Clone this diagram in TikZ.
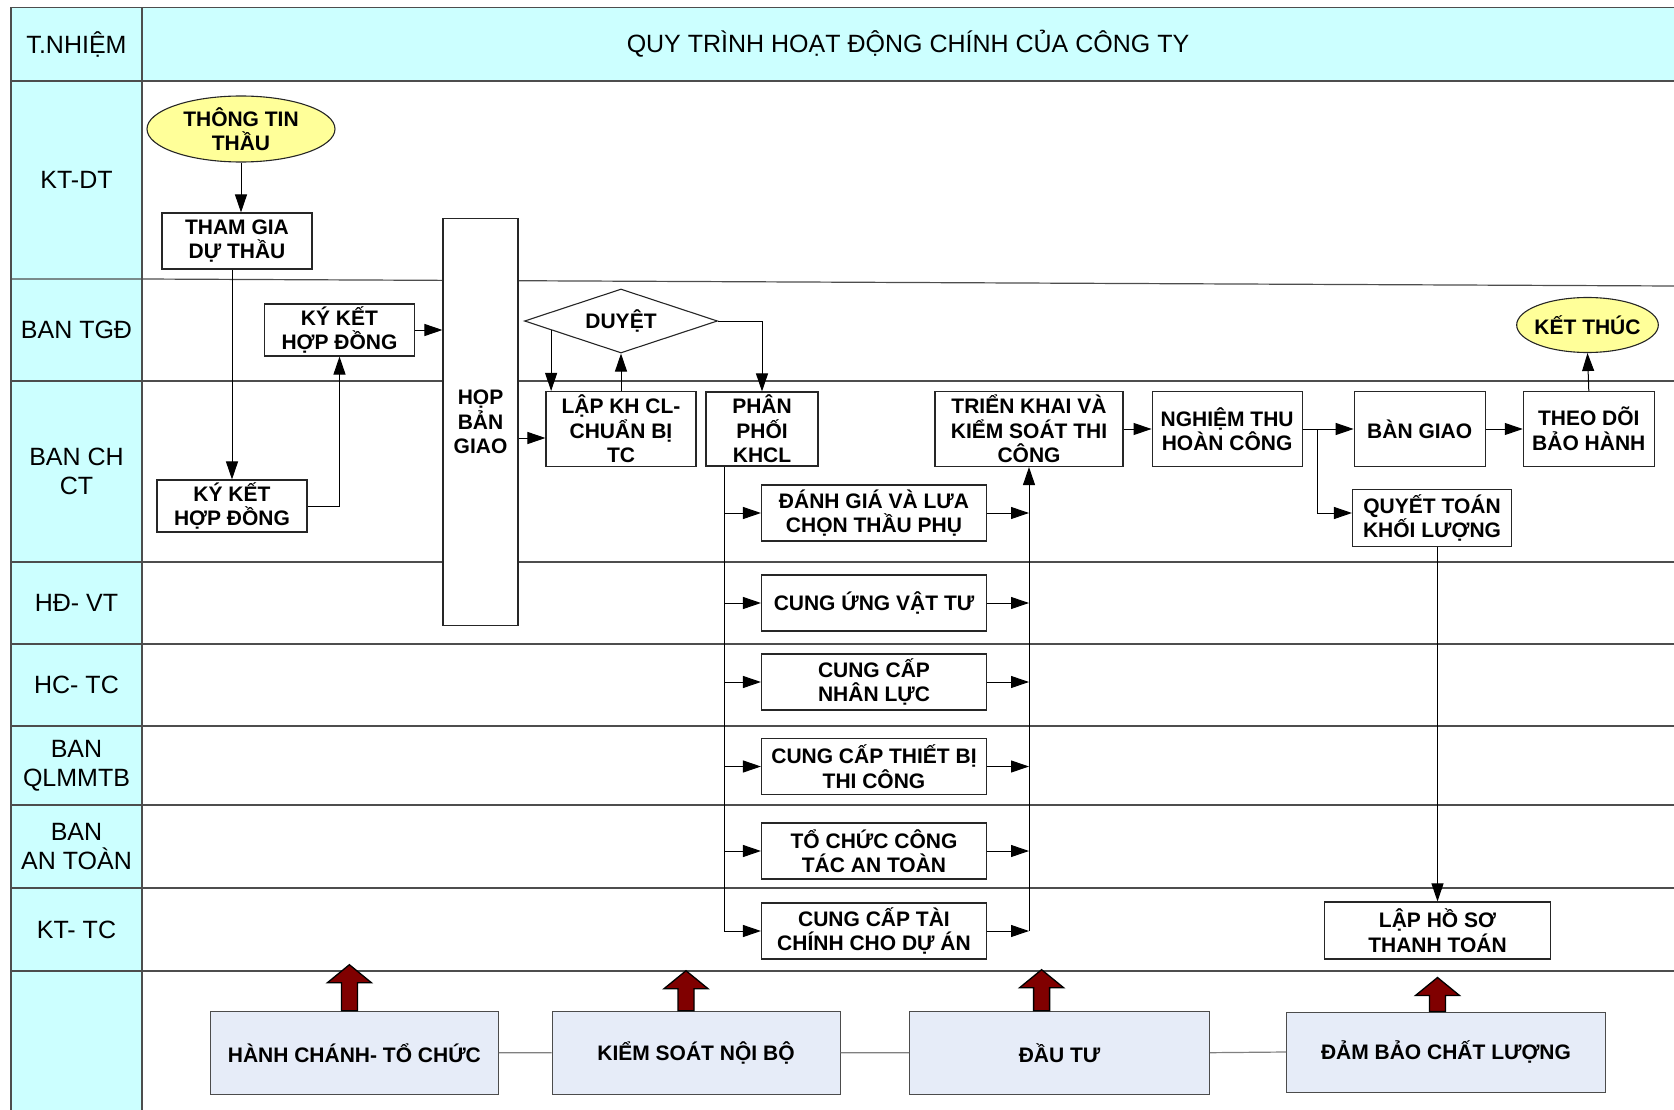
\documentclass[tikz,border=0pt]{standalone}
\usepackage{fontspec}
\setmainfont{Liberation Sans}
\usepackage{xcolor}
\definecolor{lanecyan}{HTML}{CCFFFF}
\definecolor{startyellow}{HTML}{FFFF99}
\definecolor{deptblue}{HTML}{E6ECF8}
\definecolor{arrowred}{HTML}{800000}
\definecolor{linegray}{HTML}{4D4D4D}
\usetikzlibrary{shapes.geometric,arrows.meta,positioning,calc}
\tikzset{
  redup/.pic={\filldraw[fill=arrowred,draw=black,line width=1.3pt]
    (-8,0) -- (-8,{18-#1}) -- (-22,{18-#1}) -- (0,-#1) -- (22,{18-#1})
    -- (8,{18-#1}) -- (8,0) -- cycle;}
}

\begin{document}
\begin{tikzpicture}[
  x=1pt,y=-1pt,
  font=\fontsize{21}{24.5}\selectfont\bfseries,
  box/.style={draw=black!85,fill=white,line width=1.1pt,align=center,
    inner sep=1pt,minimum width=150pt,minimum height=56pt},
  term/.style={ellipse,draw=black!85,fill=startyellow,line width=1.1pt,
    align=center,inner sep=0pt},
  dept/.style={draw=black!70,fill=deptblue,line width=1pt,
    minimum height=83pt,align=center},
  lbl/.style={font=\fontsize{25}{29}\selectfont,align=center},
  lane/.style={linegray,line width=1.2pt},
  arr/.style={-{Triangle[length=18pt,width=12pt]},line width=1pt}
]
  \useasboundingbox (0,0) rectangle (1674,1110);
  % Lanes
  \fill[lanecyan] (11,7.5) rectangle (1674,81);
  \fill[lanecyan] (11,81) rectangle (142,1110);
  \foreach \y in {381,562,644,726,805,888,971}
    \draw[lane] (11,\y) -- (1674,\y);
  \draw[lane] (11,279) -- (142,279) -- (1674,286);
  \draw[lane,line width=1.6pt] (1674,7.5) -- (11,7.5) -- (11,1110);
  \draw[lane,line width=1.6pt] (142,7.5) -- (142,1110);
  \draw[lane,line width=1.6pt] (11,81) -- (1674,81);
  % Lane titles
  \node[lbl] (title) at (908,44) {QUY TRÌNH HOẠT ĐỘNG CHÍNH CỦA CÔNG TY};
  \node[lbl] (ltn)  at (76.5,44)    {T.NHIỆM};
  \node[lbl] (lkd)  at (76.5,180)   {KT-DT};
  \node[lbl] (ltgd) at (76.5,330)   {BAN TGĐ};
  \node[lbl] (lch)  at (76.5,471.5) {BAN CH\\CT};
  \node[lbl] (lhd)  at (76.5,603)   {HĐ- VT};
  \node[lbl] (lhc)  at (76.5,685)   {HC- TC};
  \node[lbl] (lql)  at (76.5,765.5) {BAN\\QLMMTB};
  \node[lbl] (lat)  at (76.5,846.5) {BAN\\AN TOÀN};
  \node[lbl] (lktc) at (76.5,929.5) {KT- TC};
  % Contract steps
  \node[term,minimum width=188pt,minimum height=66pt] (ttt) at (241,129)
    {THÔNG TIN\\THẦU};
  \node[box] (tgdt) at (237,241) {THAM GIA\\DỰ THẦU};
  \node[box,minimum height=52pt] (kkt) at (339.5,330) {KÝ KẾT\\HỢP ĐỒNG};
  \node[box,minimum height=52pt] (kkc) at (232,506) {KÝ KẾT\\HỢP ĐỒNG};
  \node[box,minimum width=75pt,minimum height=407pt] (hbg) at (480.5,422)
    {HỌP\\BẢN\\GIAO};
  % Planning
  \node[diamond,aspect=3,draw=black!85,fill=white,line width=1.1pt,
    inner sep=0pt,minimum width=193pt,minimum height=64pt] (duyet)
    at (621,321) {DUYỆT};
  \node[box,minimum height=75pt] (lkh) at (621,429)
    {LẬP KH CL-\\CHUẨN BỊ\\TC};
  \node[box,minimum width=112pt,minimum height=74pt] (ppk) at (762,429)
    {PHÂN\\PHỐI\\KHCL};
  % Resources
  \node[box,minimum width=225pt] (dgt)  at (874,513)   {ĐÁNH GIÁ VÀ LƯA\\CHỌN THẦU PHỤ};
  \node[box,minimum width=225pt] (cuvt) at (874,603)   {CUNG ỨNG VẬT TƯ};
  \node[box,minimum width=225pt] (ccnl) at (874,682)   {CUNG CẤP\\NHÂN LỰC};
  \node[box,minimum width=225pt] (cctb) at (874,766.5) {CUNG CẤP THIẾT BỊ\\THI CÔNG};
  \node[box,minimum width=225pt] (tcat) at (874,851)   {TỔ CHỨC CÔNG\\TÁC AN TOÀN};
  \node[box,minimum width=225pt] (cctc) at (874,931)   {CUNG CẤP TÀI\\CHÍNH CHO DỰ ÁN};
  % Execution
  \node[box,minimum width=188pt,minimum height=75pt] (tkks) at (1029,429)
    {TRIỂN KHAI VÀ\\KIỂM SOÁT THI\\CÔNG};
  \node[box,minimum height=75pt,right=28pt of tkks] (ntc) {NGHIỆM THU\\HOÀN CÔNG};
  \node[box,minimum width=131pt,minimum height=75pt,right=51pt of ntc] (bgo) {BÀN GIAO};
  \node[box,minimum width=131pt,minimum height=75pt,right=37pt of bgo] (tdbh)
    {THEO DÕI\\BẢO HÀNH};
  \node[term,inner xsep=-3pt,minimum width=141pt,minimum height=55pt] (ktt)
    at (1587.5,325) {KẾT THÚC};
  \node[box,minimum width=159pt,minimum height=57pt] (qtkl) at (1432,518)
    {QUYẾT TOÁN\\KHỐI LƯỢNG};
  \node[box,minimum width=226pt,minimum height=57pt] (lhst) at (1437.5,930.5)
    {LẬP HỒ SƠ\\THANH TOÁN};
  % Departments
  \node[dept,minimum width=288pt] (hcto) at (354.4,1052.7) {HÀNH CHÁNH- TỔ CHỨC};
  \node[dept,minimum width=288pt] (ksnb) at (696,1052.7)   {KIỂM SOÁT NỘI BỘ};
  \node[dept,minimum width=300pt] (dtu)  at (1059.6,1052.7) {ĐẦU TƯ};
  \node[dept,minimum width=319pt,minimum height=80pt] (dbcl) at (1446,1052)
    {ĐẢM BẢO CHẤT LƯỢNG};
  % Arrows
  \draw[arr] (ttt.south) -- (ttt.south |- tgdt.north);
  \draw[arr] (kkc.north |- tgdt.south) -- (kkc.north);
  \draw[arr] (kkc.east) -| (kkt.south);
  \draw[arr] (kkt.east) -- (kkt.east -| hbg.west);
  \draw[arr] ([yshift=-9pt]lkh.west -| hbg.east) -- ([yshift=-9pt]lkh.west);
  \coordinate (dsw) at ($(duyet.west)!0.28!(duyet.south)$);
  \draw[arr] (dsw) -- (dsw |- lkh.north);
  \draw[arr] (lkh.north) -- (duyet.south);
  \draw[arr] (duyet.east) -| (ppk.north);
  \coordinate (busl) at ([xshift=19pt]ppk.south west);
  \draw[arr] (busl) |- (cctc.west);
  \foreach \n in {dgt,cuvt,ccnl,cctb,tcat}
    \draw[arr] (busl |- \n.west) -- (\n.west);
  \foreach \n in {dgt,cuvt,ccnl,cctb,tcat,cctc}
    \draw[arr] (\n.east) -- (\n.east -| tkks.south);
  \draw[arr] (tkks.south |- cctc.east) -- (tkks.south);
  \draw[arr] (tkks.east) -- (ntc.west);
  \draw[arr] (ntc.east) -- (bgo.west);
  \coordinate (ntbr) at ([xshift=15pt]ntc.east);
  \draw[arr] (ntbr) |- ([yshift=5pt]qtkl.west);
  \draw[arr] (bgo.east) -- (tdbh.west);
  \draw[arr] (tdbh.north) -- (ktt.south);
  \draw[arr] (lhst.north |- qtkl.south) -- (lhst.north);
  % Department links
  \draw[gray,line width=1.2pt] (hcto.east) -- (ksnb.west)
    (ksnb.east) -- (dtu.west) (dtu.east) -- (dbcl.west);
  \path ([xshift=-5pt]hcto.north) pic {redup=46};
  \path ([xshift=-10pt]ksnb.north) pic {redup=40};
  \path ([xshift=-18pt]dtu.north) pic {redup=41};
  \path ([xshift=-8.5pt]dbcl.north) pic {redup=34};
\end{tikzpicture}
\end{document}
